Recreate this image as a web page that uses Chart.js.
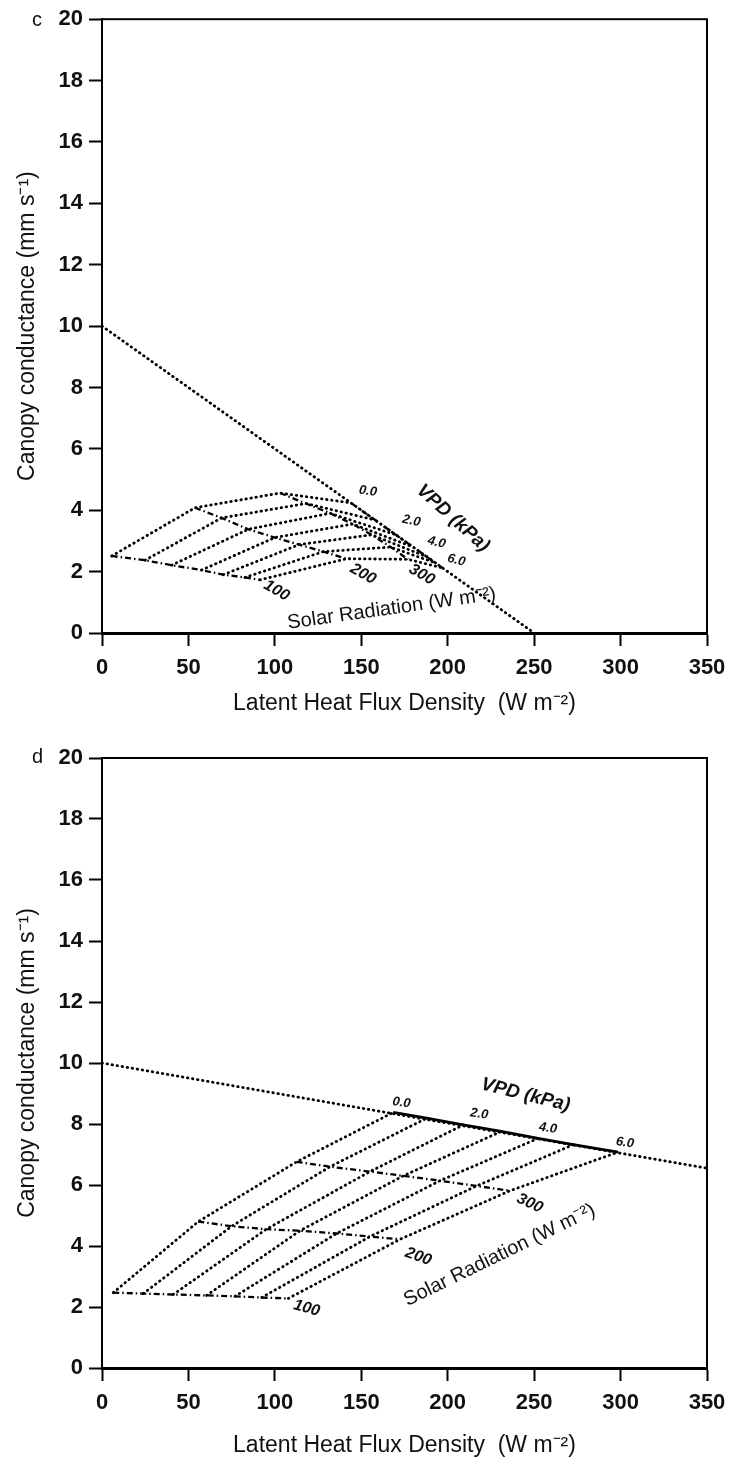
<!DOCTYPE html>
<html>
<head>
<meta charset="utf-8">
<script src="https://cdn.jsdelivr.net/npm/chart.js@4.4.1/dist/chart.umd.min.js"></script>
<style>
  body { margin: 0; background: #fff; }
  canvas { display: block; }
</style>
</head>
<body>
<canvas id="chartC" width="729" height="736"></canvas>
<canvas id="chartD" width="729" height="737"></canvas>
<script>
const xTicks = [0, 50, 100, 150, 200, 250, 300, 350];
const yTicks = [0, 2, 4, 6, 8, 10, 12, 14, 16, 18, 20];
const vpdLevels = ['0.0', '1.0', '2.0', '3.0', '4.0', '5.0', '6.0'];
const vpdLabelled = ['0.0', '2.0', '4.0', '6.0'];
const solarLevels = [100, 200, 300, 400];
const solarLabelled = ['100', '200', '300'];

// panel c - grid nodes, one row per solar radiation level, one column per VPD level
const cLatent = [
  [5.6, 24.9, 40.3, 57.6, 70.2, 82.7, 91.4],
  [53.8, 69.2, 84.6, 100, 114, 128, 141.5],
  [103, 118, 132, 145, 156, 167, 177],
  [144, 158, 170, 180, 188, 193, 197]
];
const cConduct = [
  [2.51, 2.37, 2.21, 2.05, 1.90, 1.81, 1.73],
  [4.08, 3.75, 3.38, 3.11, 2.88, 2.65, 2.42],
  [4.56, 4.22, 3.90, 3.55, 3.20, 2.80, 2.40],
  [4.24, 3.68, 3.20, 2.80, 2.48, 2.28, 2.12]
];
const cLimitLatent = [0, 250];
const cLimitConduct = [10, 0];

// panel d
const dLatent = [
  [6.5, 23.9, 41.2, 60.5, 76.9, 92.4, 107.8],
  [55.7, 75, 95, 114.5, 135.7, 155, 172.4],
  [112.6, 131.9, 155, 174.3, 195.5, 216.7, 236],
  [168.5, 187.8, 209, 231, 252.3, 272.6, 298.6]
];
const dConduct = [
  [2.47, 2.44, 2.41, 2.38, 2.35, 2.31, 2.28],
  [4.80, 4.65, 4.55, 4.50, 4.41, 4.31, 4.22],
  [6.76, 6.60, 6.44, 6.30, 6.14, 5.97, 5.81],
  [8.38, 8.19, 7.97, 7.76, 7.53, 7.32, 7.08]
];
const dLimitLatent = [0, 350];
const dLimitConduct = [10, 6.55];

const FONT = '"Liberation Sans", Arial, Helvetica, sans-serif';
const INK = '#111';

const dotted = { borderDash: [0.5, 4.6], borderCapStyle: 'round', borderWidth: 2.8 };
const dashDot = { borderDash: [6, 3, 1.5, 3], borderCapStyle: 'butt', borderWidth: 2.3 };
const solid = { borderDash: [], borderCapStyle: 'butt', borderWidth: 2.8 };

function pts(xs, ys) {
  return xs.map((v, i) => ({ x: v, y: ys[i] }));
}

function buildDatasets(latent, conduct, limLat, limCon, topSolid) {
  const sets = [];
  sets.push(Object.assign({ label: 'limit', data: pts(limLat, limCon) }, dotted));
  vpdLevels.forEach((v, j) => {
    sets.push(Object.assign({
      label: 'VPD ' + v,
      data: solarLevels.map((s, i) => ({ x: latent[i][j], y: conduct[i][j] }))
    }, dotted));
  });
  solarLevels.forEach((s, i) => {
    const style = (i === solarLevels.length - 1 && topSolid) ? solid : dashDot;
    sets.push(Object.assign({ label: 'Rs ' + s, data: pts(latent[i], conduct[i]) }, style));
  });
  return sets.map(d => Object.assign(d, {
    showLine: true, pointRadius: 0, borderColor: '#000', fill: false, tension: 0
  }));
}

const labelPlugin = {
  id: 'nomogramLabels',
  afterDatasetsDraw(chart, args, opts) {
    const { ctx, scales: { x, y }, chartArea: a } = chart;
    ctx.save();
    ctx.strokeStyle = '#000';
    ctx.lineWidth = 2;
    ctx.strokeRect(a.left, a.top, a.right - a.left, a.bottom - a.top);
    ctx.fillStyle = INK;
    ctx.textAlign = 'center';
    ctx.textBaseline = 'middle';
    opts.items.forEach(it => {
      ctx.save();
      ctx.translate(x.getPixelForValue(it.at[0]), y.getPixelForValue(it.at[1]));
      ctx.rotate(it.rot * Math.PI / 180);
      ctx.font = it.font;
      ctx.fillText(it.text, 0, 0);
      ctx.restore();
    });
    ctx.font = '20px ' + FONT;
    ctx.textAlign = 'left';
    ctx.fillText(opts.letter, opts.letterAt[0], opts.letterAt[1]);
    ctx.restore();
  }
};

function makeChart(id, datasets, items, letter, letterAt, padTop, xAxisH, xTitlePad) {
  return new Chart(document.getElementById(id), {
    type: 'scatter',
    data: { datasets },
    plugins: [labelPlugin],
    options: {
      responsive: false,
      animation: false,
      layout: { padding: { left: 0, right: 22, top: padTop, bottom: 0 } },
      plugins: {
        legend: { display: false },
        tooltip: { enabled: false },
        nomogramLabels: { items, letter, letterAt }
      },
      scales: {
        x: {
          type: 'linear', min: 0, max: 350,
          afterBuildTicks: s => { s.ticks = xTicks.map(v => ({ value: v })); },
          afterFit: s => { s.height = xAxisH; s.paddingRight = 22; s.paddingLeft = 0; },
          grid: { drawOnChartArea: false, drawTicks: true, tickLength: 13, tickWidth: 2, color: '#000' },
          border: { display: true, color: '#000', width: 3 },
          ticks: { color: INK, font: { family: FONT, size: 22, weight: 'bold' }, padding: 9, maxRotation: 0 },
          title: {
            display: true, text: 'Latent Heat Flux Density  (W m⁻²)', color: INK,
            font: { family: FONT, size: 23 }, padding: { top: 0, bottom: xTitlePad }
          }
        },
        y: {
          type: 'linear', min: 0, max: 20,
          afterBuildTicks: s => { s.ticks = yTicks.map(v => ({ value: v })); },
          afterFit: s => { s.width = 102; },
          grid: { drawOnChartArea: false, drawTicks: true, tickLength: 13, tickWidth: 2, color: '#000' },
          border: { display: true, color: '#000', width: 2 },
          ticks: { color: INK, font: { family: FONT, size: 22, weight: 'bold' }, padding: 6 },
          title: {
            display: true, text: 'Canopy conductance (mm s⁻¹)', color: INK,
            font: { family: FONT, size: 23 }, padding: { top: 14, bottom: 0 }
          }
        }
      }
    }
  });
}

const smallNum = 'bold italic 13px ' + FONT;
const solarNum = 'bold italic 16px ' + FONT;
const vpdTitle = 'bold italic 19px ' + FONT;
const solarTitle = '20px ' + FONT;

const cItems = [
  { text: vpdLabelled[0], at: [153.8, 4.62], rot: 8, font: smallNum },
  { text: vpdLabelled[1], at: [179, 3.65], rot: 12, font: smallNum },
  { text: vpdLabelled[2], at: [193.6, 2.95], rot: 14, font: smallNum },
  { text: vpdLabelled[3], at: [205, 2.37], rot: 14, font: smallNum },
  { text: 'VPD (kPa)', at: [203, 3.74], rot: 42, font: vpdTitle },
  { text: solarLabelled[0], at: [101, 1.38], rot: 30, font: solarNum },
  { text: solarLabelled[1], at: [151, 1.92], rot: 30, font: solarNum },
  { text: solarLabelled[2], at: [185, 1.9], rot: 30, font: solarNum },
  { text: 'Solar Radiation (W m⁻²)', at: [167.6, 0.79], rot: -8, font: solarTitle }
];

const dItems = [
  { text: vpdLabelled[0], at: [173.3, 8.70], rot: 8, font: smallNum },
  { text: vpdLabelled[1], at: [218.2, 8.33], rot: 8, font: smallNum },
  { text: vpdLabelled[2], at: [258, 7.86], rot: 8, font: smallNum },
  { text: vpdLabelled[3], at: [302.5, 7.39], rot: 8, font: smallNum },
  { text: 'VPD (kPa)', at: [245, 8.95], rot: 14, font: vpdTitle },
  { text: solarLabelled[0], at: [118.4, 1.96], rot: 15, font: solarNum },
  { text: solarLabelled[1], at: [183, 3.65], rot: 20, font: solarNum },
  { text: solarLabelled[2], at: [247.5, 5.4], rot: 25, font: solarNum },
  { text: 'Solar Radiation (W m⁻²)', at: [230, 3.7], rot: -26, font: solarTitle }
];

makeChart('chartC', buildDatasets(cLatent, cConduct, cLimitLatent, cLimitConduct, false),
  cItems, 'c', [32, 20], 16, 103, 19);
makeChart('chartD', buildDatasets(dLatent, dConduct, dLimitLatent, dLimitConduct, true),
  dItems, 'd', [32, 21], 22, 105, 14);
</script>
</body>
</html>
